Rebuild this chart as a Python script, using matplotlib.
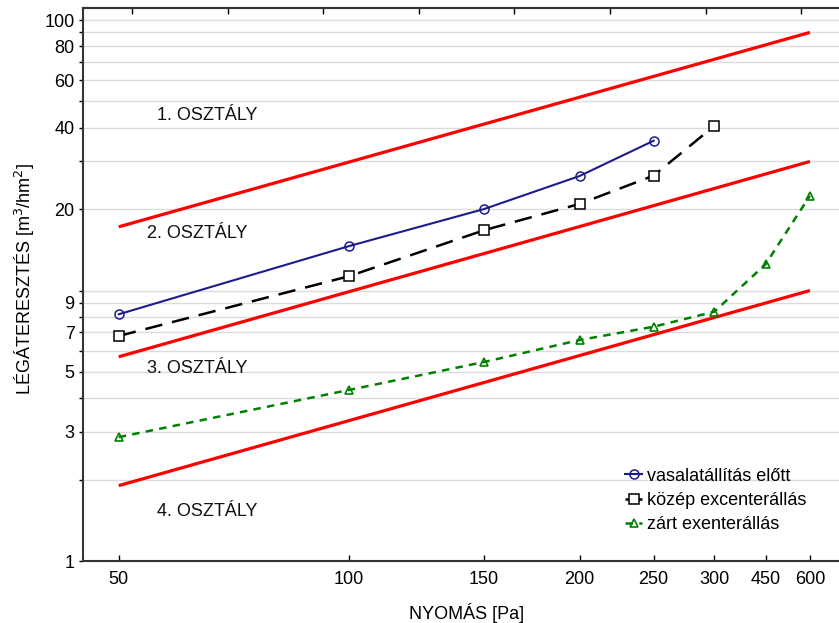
import numpy as np
import matplotlib
matplotlib.use('Agg')
import matplotlib.pyplot as plt
from matplotlib.ticker import FixedLocator, NullLocator, FixedFormatter

plt.rcParams['font.family'] = ['Liberation Sans', 'DejaVu Sans']

#- Data:

# x positions on the (log) pressure axis; the last two are labelled 450 / 600
x_ticks = [50, 100, 150, 200, 250, 300, 350, 400]
x_tick_labels = ['50', '100', '150', '200', '250', '300', '450', '600']

p_vasalat = [50, 100, 150, 200, 250]
q_vasalat = [8.17, 14.6, 20.0, 26.5, 35.8]

p_kozep = [50, 100, 150, 200, 250, 300]
q_kozep = [6.79, 11.3, 16.7, 20.9, 26.6, 40.6]

p_zart = [50, 100, 150, 200, 250, 300, 350, 400]
q_zart = [2.87, 4.29, 5.44, 6.56, 7.35, 8.35, 12.5, 22.4]

# class boundary lines (start at 50, end at the last position)
class_p = [50, 400]
class_q = [[17.2, 90.0], [5.69, 30.0], [1.90, 10.0]]

class_labels = ['1. OSZTÁLY', '2. OSZTÁLY', '3. OSZTÁLY', '4. OSZTÁLY']
class_label_xy = [(65.2, 44.5), (63.3, 16.3), (63.3, 5.17), (65.2, 1.52)]

y_ticks = [1, 2, 3, 4, 5, 6, 7, 8, 9, 10, 20, 30, 40, 50, 60, 70, 80, 90, 100]
y_tick_labels = ['1', '', '3', '', '5', '', '7', '', '9', '',
                 '20', '', '40', '', '60', '', '80', '', '100']

fs = 13

#- Figure:

fig = plt.figure(figsize=(8.39, 6.23), dpi=100)
ax = fig.add_axes([0.0989, 0.0995, 0.9011, 0.8875])

ax.set_xscale('log')
ax.set_yscale('log')
ax.set_xlim(44.9, 436.6)
ax.set_ylim(1, 110.7)

for q in class_q:
    ax.plot(class_p, q, '-', color='#ff0000', lw=2.3, solid_capstyle='butt', zorder=3)

ax.plot(p_vasalat, q_vasalat, '-', color='#1c1c8c', lw=1.5, marker='o', ms=6.5,
        mfc='none', mec='#1c1c8c', mew=1.1, label='vasalatállítás előtt', zorder=4)
ax.plot(p_kozep, q_kozep, color='black', lw=1.8, dashes=(7, 4), marker='s', ms=6.5,
        mfc='white', mec='black', mew=1.1, label='közép excenterállás', zorder=4)
ax.plot(p_zart, q_zart, color='#008000', lw=1.8, dashes=(3, 2.5), marker='^', ms=6,
        mfc='none', mec='#008000', mew=1.2, label='zárt exenterállás', zorder=4)

for lab, (tx, ty) in zip(class_labels, class_label_xy):
    ax.text(tx, ty, lab, fontsize=fs, ha='center', va='center', color='#111111')

ax.yaxis.set_major_locator(FixedLocator(y_ticks))
ax.yaxis.set_major_formatter(FixedFormatter(y_tick_labels))
ax.yaxis.set_minor_locator(NullLocator())
ax.xaxis.set_major_locator(FixedLocator(x_ticks))
ax.xaxis.set_major_formatter(FixedFormatter(x_tick_labels))
ax.xaxis.set_minor_locator(NullLocator())

ax.grid(axis='y', color='#dcdcdc', lw=1.0)
ax.set_axisbelow(True)

ax.tick_params(axis='y', direction='out', length=3, width=1, pad=3, labelsize=fs)
ax.tick_params(axis='x', direction='in', length=4, width=1, pad=7, labelsize=fs)

for side in ['left', 'bottom', 'top']:
    ax.spines[side].set_linewidth(1.5)
    ax.spines[side].set_color('#333333')
ax.spines['right'].set_visible(False)

ax.set_xlabel('NYOMÁS [Pa]', fontsize=fs, labelpad=11)
ax.xaxis.label.set_x(0.507)
ax.set_ylabel('LÉGÁTERESZTÉS [m$^3$/hm$^2$]', fontsize=fs, labelpad=5.5)
ax.yaxis.label.set_y(0.51)

# top axis ticks (no labels)
ax2 = ax.twiny()
ax2.set_xlim(-0.512, 7.393)
ax2.set_xticks(np.arange(8))
ax2.set_xticklabels([])
ax2.tick_params(axis='x', direction='in', length=4, width=1)
for side in ['left', 'bottom', 'right']:
    ax2.spines[side].set_visible(False)
ax2.spines['top'].set_linewidth(1.5)
ax2.spines['top'].set_color('#333333')

ax.legend(loc='upper left', bbox_to_anchor=(0.708, 0.182), frameon=False,
          fontsize=fs, handlelength=0.9, handletextpad=0.3, labelspacing=0.4,
          borderaxespad=0)

fig.savefig('out.png', dpi=100)
